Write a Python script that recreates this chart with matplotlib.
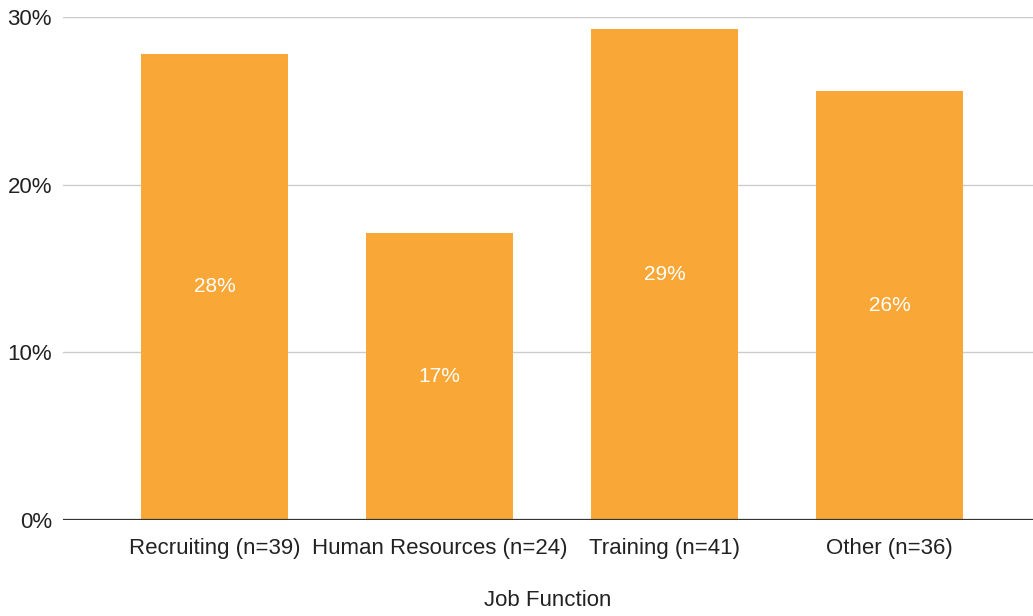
import matplotlib.pyplot as plt
from matplotlib.ticker import FuncFormatter

# --- data ---
categories = ["Recruiting (n=39)", "Human Resources (n=24)", "Training (n=41)", "Other (n=36)"]
values = [27.8, 17.1, 29.3, 25.6]
bar_labels = ["28%", "17%", "29%", "26%"]

plt.rcParams['font.family'] = ['Liberation Sans', 'DejaVu Sans']

fig = plt.figure(figsize=(10.33, 6.16), dpi=100)
ax = fig.add_axes([63 / 1033, 96 / 616, 970 / 1033, 503 / 616])

x = list(range(len(categories)))
bars = ax.bar(x, values, width=0.653, color="#F9A736", zorder=3)

for rect, lab in zip(bars, bar_labels):
    ax.text(rect.get_x() + rect.get_width() / 2, rect.get_height() / 2, lab,
            ha="center", va="center", color="white", fontsize=15, zorder=4)

ax.set_xlim(-0.673, 3.638)
ax.set_ylim(0, 30)
ax.set_yticks([0, 10, 20, 30])
ax.yaxis.set_major_formatter(FuncFormatter(lambda v, p: f"{v:.0f}%"))
ax.set_xticks(x)
ax.set_xticklabels(categories)

ax.grid(axis="y", color="#cccccc", linewidth=1, zorder=0)
ax.axhline(0, color="#333333", linewidth=1.6, zorder=5)
for s in ax.spines.values():
    s.set_visible(False)
ax.tick_params(axis="both", length=0, labelsize=16, colors="#222222")
ax.tick_params(axis="x", pad=13)
ax.tick_params(axis="y", pad=8)

ax.set_xlabel("Job Function", fontsize=16, color="#222222", labelpad=22)

plt.savefig("out.png", dpi=100)
plt.close()
